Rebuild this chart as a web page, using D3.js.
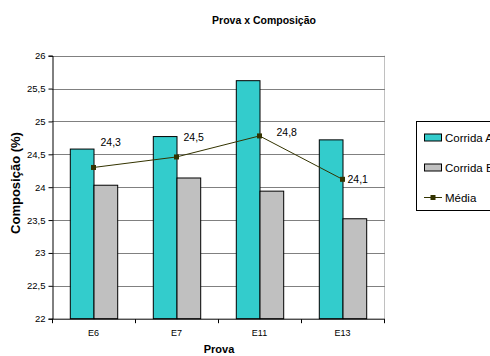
<!DOCTYPE html>
<html>
<head>
<meta charset="utf-8">
<script src="https://cdn.jsdelivr.net/npm/d3@7"></script>
<style>
  html, body { margin: 0; padding: 0; background: #fff; }
  svg { display: block; font-family: "Liberation Sans", Arial, sans-serif; }
</style>
</head>
<body>
<svg id="chart" width="490" height="356"></svg>
<script>
// Chart data
const categories = ["E6", "E7", "E11", "E13"];
const corridaA = [24.58, 24.77, 25.62, 24.72];
const corridaB = [24.03, 24.14, 23.94, 23.52];
const media = [24.3, 24.46, 24.78, 24.12];
const mediaLabels = ["24,3", "24,5", "24,8", "24,1"];
const yTicks = [22, 22.5, 23, 23.5, 24, 24.5, 25, 25.5, 26];
const seriesNames = ["Corrida A", "Corrida B", "Média"];

const svg = d3.select("#chart");
const plot = { left: 52, right: 384, top: 55.7, bottom: 318.7 };

const x = d3.scaleBand().domain(categories).range([plot.left, plot.right]).padding(0);
const y = d3.scaleLinear().domain([22, 26]).range([plot.bottom, plot.top]);
const fmt = d => String(d).replace(".", ",");

// Title
svg.append("text")
  .attr("x", 264).attr("y", 24)
  .attr("text-anchor", "middle")
  .attr("font-size", 10.5).attr("font-weight", "bold")
  .text("Prova x Composição");

// Plot-area right border
svg.append("line")
  .attr("x1", plot.right + 0.5).attr("x2", plot.right + 0.5)
  .attr("y1", plot.top).attr("y2", plot.bottom)
  .attr("stroke", "#c0c0c0");

// Horizontal gridlines
svg.append("g").selectAll("line")
  .data(yTicks.filter(t => t > 22))
  .join("line")
  .attr("x1", plot.left).attr("x2", plot.right + 1)
  .attr("y1", d => Math.round(y(d)) + 0.5).attr("y2", d => Math.round(y(d)) + 0.5)
  .attr("stroke", "#808080");

// Bars
const inner = 23.7;
const bars = svg.append("g");
bars.selectAll("rect.a")
  .data(categories)
  .join("rect").attr("class", "a")
  .attr("x", d => x(d) + x.bandwidth() / 2 - inner + 0.5)
  .attr("width", inner)
  .attr("y", (d, i) => y(corridaA[i]))
  .attr("height", (d, i) => y(22) - y(corridaA[i]))
  .attr("fill", "#33cccc").attr("stroke", "#000").attr("stroke-width", 1);
bars.selectAll("rect.b")
  .data(categories)
  .join("rect").attr("class", "b")
  .attr("x", d => x(d) + x.bandwidth() / 2 + 0.5)
  .attr("width", inner)
  .attr("y", (d, i) => y(corridaB[i]))
  .attr("height", (d, i) => y(22) - y(corridaB[i]))
  .attr("fill", "#c0c0c0").attr("stroke", "#000").attr("stroke-width", 1);

// Y axis
const yAxis = svg.append("g")
  .attr("transform", `translate(${plot.left + 0.5},0)`)
  .call(d3.axisLeft(y).tickValues(yTicks).tickSize(4).tickPadding(3).tickFormat(fmt));
yAxis.select(".domain").attr("stroke", "#000");
yAxis.selectAll(".tick line").attr("stroke", "#000");
yAxis.selectAll(".tick text")
  .attr("font-family", "Liberation Sans, Arial, sans-serif")
  .attr("font-size", 9.5).attr("fill", "#000");

// X axis: ticks on category boundaries, labels centred
const xAxisG = svg.append("g").attr("transform", `translate(0,${plot.bottom + 0.5})`);
xAxisG.append("line")
  .attr("x1", plot.left).attr("x2", plot.right + 1)
  .attr("stroke", "#000");
const bounds = categories.map(c => x(c)).concat([plot.right]);
xAxisG.selectAll("line.tick")
  .data(bounds)
  .join("line").attr("class", "tick")
  .attr("x1", d => Math.round(d) + 0.5).attr("x2", d => Math.round(d) + 0.5)
  .attr("y1", 0).attr("y2", 4)
  .attr("stroke", "#000");
xAxisG.selectAll("text")
  .data(categories)
  .join("text")
  .attr("x", d => x(d) + x.bandwidth() / 2)
  .attr("y", 17)
  .attr("text-anchor", "middle")
  .attr("font-size", 9)
  .text(d => d);

// Axis titles
svg.append("text")
  .attr("x", 219).attr("y", 353)
  .attr("text-anchor", "middle")
  .attr("font-size", 11).attr("font-weight", "bold")
  .text("Prova");
svg.append("text")
  .attr("transform", "translate(20,183) rotate(-90)")
  .attr("text-anchor", "middle")
  .attr("font-size", 13).attr("font-weight", "bold")
  .text("Composição (%)");

// Average line with square markers
const cx = d => x(d) + x.bandwidth() / 2;
const line = d3.line().x((d, i) => cx(categories[i])).y(d => y(d));
svg.append("path")
  .attr("d", line(media))
  .attr("fill", "none").attr("stroke", "#333300").attr("stroke-width", 1);
svg.append("g").selectAll("rect")
  .data(media)
  .join("rect")
  .attr("x", (d, i) => cx(categories[i]) - 2.5)
  .attr("y", d => y(d) - 2.5)
  .attr("width", 5).attr("height", 5)
  .attr("fill", "#333300");

// Value labels beside the markers
const labelDx = [7, 7, 17, 5];
const labelDy = [-25, -20, -4, 0];
svg.append("g").selectAll("text")
  .data(media)
  .join("text")
  .attr("x", (d, i) => cx(categories[i]) + labelDx[i])
  .attr("y", (d, i) => y(d) + labelDy[i])
  .attr("dy", "0.35em")
  .attr("font-size", 10.5)
  .text((d, i) => mediaLabels[i]);

// Legend
const lg = svg.append("g");
lg.append("rect")
  .attr("x", 416.5).attr("y", 121.5)
  .attr("width", 90).attr("height", 89)
  .attr("fill", "#fff").attr("stroke", "#000");
const rowY = [137.5, 167.5, 197.5];
const swatchFill = ["#33cccc", "#c0c0c0"];
swatchFill.forEach((f, i) => {
  lg.append("rect")
    .attr("x", 424.5).attr("y", rowY[i] - 3.5)
    .attr("width", 17).attr("height", 7)
    .attr("fill", f).attr("stroke", "#000");
});
lg.append("line")
  .attr("x1", 424).attr("x2", 442)
  .attr("y1", rowY[2]).attr("y2", rowY[2])
  .attr("stroke", "#333300");
lg.append("rect")
  .attr("x", 430.5).attr("y", rowY[2] - 2.5)
  .attr("width", 5).attr("height", 5)
  .attr("fill", "#333300");
lg.selectAll("text.lbl")
  .data(seriesNames)
  .join("text").attr("class", "lbl")
  .attr("x", 445)
  .attr("y", (d, i) => rowY[i])
  .attr("dy", "0.35em")
  .attr("font-size", 11.5)
  .text(d => d);
</script>
</body>
</html>
